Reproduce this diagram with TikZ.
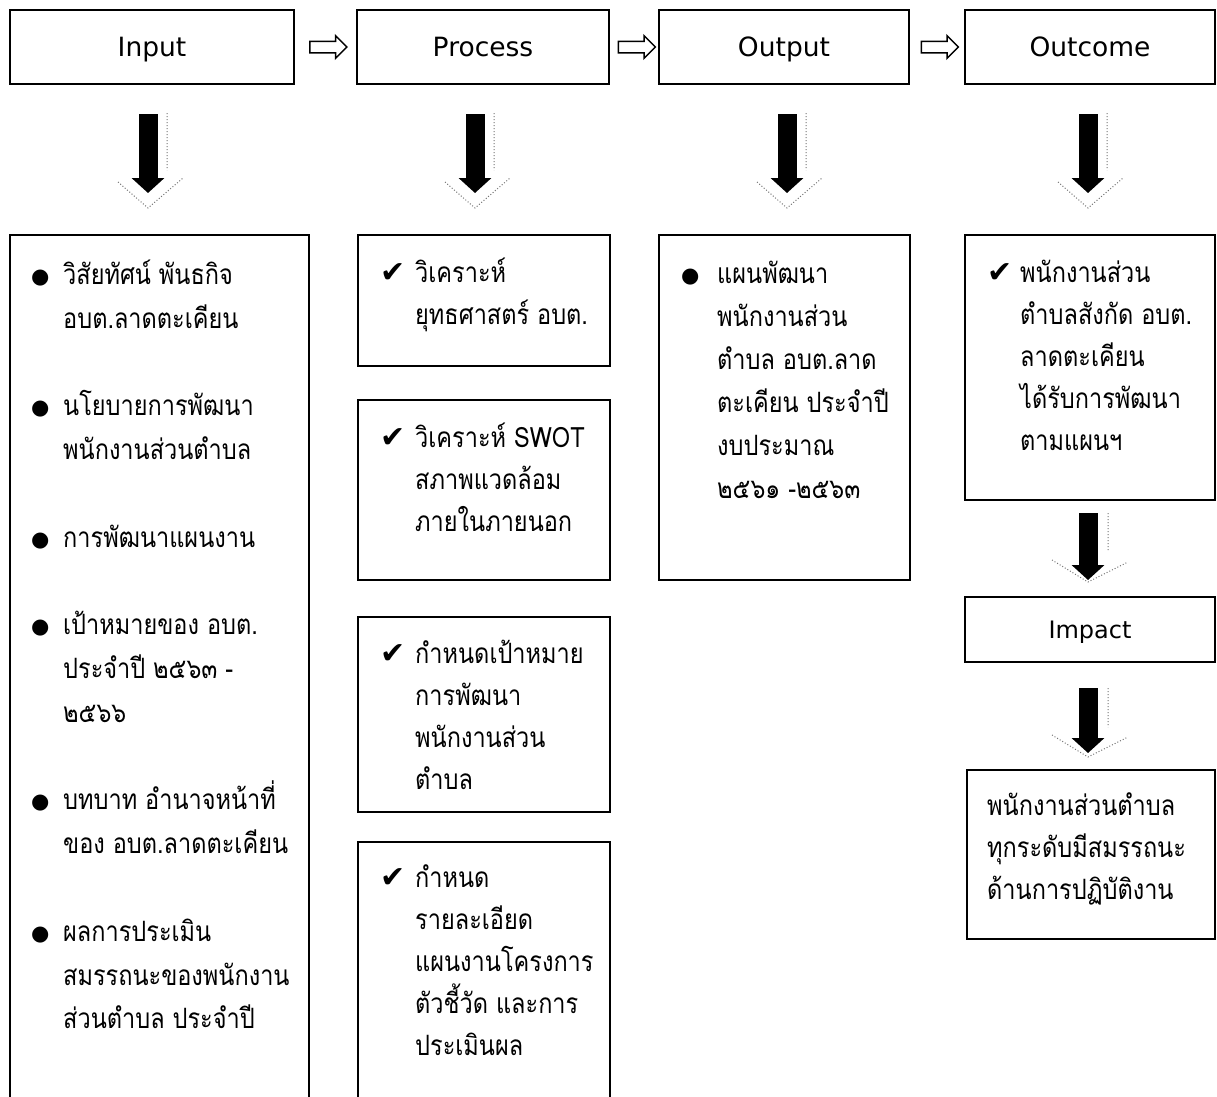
\documentclass[tikz,border=0pt]{standalone}
\usepackage{fontspec}
\setmainfont{DejaVu Sans}
\newfontfamily\thai[Script=Thai, FakeStretch=0.84]{Loma}
\newfontfamily\symf{DejaVu Sans}
\usetikzlibrary{arrows.meta,shapes.arrows,calc}
\newcommand\bul{\makebox[32pt][l]{\raisebox{1pt}{\symf\fontsize{21}{21}\selectfont ●}}}
\newcommand\obul{\makebox[36pt][l]{\raisebox{1pt}{\symf\fontsize{21}{21}\selectfont ●}}}
\newcommand\chk{\makebox[35pt][l]{\symf\fontsize{30}{30}\selectfont ✔}}
\newcommand\ochk{\makebox[33pt][l]{\symf\fontsize{30}{30}\selectfont ✔}}
\newcommand\ind[1]{\hspace*{#1}}
\newcommand\st{\rule{0pt}{32pt}}
\tikzset{
  boxx/.style={draw=black, line width=1.6pt, inner sep=0pt, outer sep=0pt, anchor=north west},
  titlebox/.style={boxx, font=\fontsize{26.5}{30}\selectfont, text height=19pt, text depth=0pt},
  txt/.style={inner sep=0pt, anchor=north west, align=left},
  txtA/.style={txt, font=\thai\fontsize{28}{43.8}\selectfont},
  txtB/.style={txt, font=\thai\fontsize{28}{42}\selectfont},
  txtC/.style={txt, font=\thai\fontsize{28}{43}\selectfont},
  harrow/.style={draw=black, line width=1.5pt, fill=white, single arrow, minimum height=37pt,
    inner xsep=0pt, inner ysep=5pt, single arrow head extend=5.5pt, single arrow head indent=0pt},
  darrow/.style={draw=black, line width=19pt, line cap=butt, -{Triangle[width=32pt,length=15pt]}},
  shadowline/.style={draw=black!55, dotted, line width=1pt}
}
\begin{document}
\begin{tikzpicture}[x=1pt,y=-1pt]
\useasboundingbox (0,0) rectangle (1217,1096);
% title row
\node[titlebox, minimum width=284pt, minimum height=74pt] (input) at (10,10) {Input};
\node[titlebox, minimum width=252pt, minimum height=74pt] (process) at (357,10) {Process};
\node[titlebox, minimum width=250pt, minimum height=74pt] (output) at (659,10) {Output};
\node[titlebox, minimum width=250pt, minimum height=74pt] (outcome) at (965,10) {Outcome};
\node[harrow] (h1) at ($(input.east)!0.5!(process.west)$) {};
\node[harrow] (h2) at ($(process.east)!0.5!(output.west)$) {};
\node[harrow] (h3) at ($(output.east)!0.5!(outcome.west)$) {};
% content boxes
\node[boxx, minimum width=299pt, minimum height=880pt] (inbox) at (10,235) {};
\node[boxx, minimum width=252pt, minimum height=131pt] (p1) at (358,235) {};
\node[boxx, minimum width=252pt, minimum height=180pt] (p2) at (358,400) {};
\node[boxx, minimum width=252pt, minimum height=195pt] (p3) at (358,617) {};
\node[boxx, minimum width=252pt, minimum height=270pt] (p4) at (358,842) {};
\node[boxx, minimum width=251pt, minimum height=345pt] (outbox) at (659,235) {};
\node[boxx, minimum width=250pt, minimum height=265pt] (ocbox) at (965,235) {};
\node[titlebox, minimum width=250pt, minimum height=65pt, font=\fontsize{24}{28}\selectfont, text height=17.5pt] (impact) at (965,597) {Impact};
\node[boxx, minimum width=248pt, minimum height=169pt] (final) at (967,770) {};
% texts
\node[txtA] (intxt) at (31,252) {\st\bul วิสัยทัศน์ พันธกิจ\\ \ind{32pt}อบต.ลาดตะเคียน\\[43.8pt]
\bul นโยบายการพัฒนา\\ \ind{32pt}พนักงานส่วนตำบล\\[43.8pt]
\bul การพัฒนาแผนงาน\\[43.8pt]
\bul เป้าหมายของ อบต.\\ \ind{32pt}ประจำปี ๒๕๖๓ -\\ \ind{32pt}๒๕๖๖\\[43.8pt]
\bul บทบาท อำนาจหน้าที่\\ \ind{32pt}ของ อบต.ลาดตะเคียน\\[43.8pt]
\bul ผลการประเมิน\\ \ind{32pt}สมรรถนะของพนักงาน\\ \ind{32pt}ส่วนตำบล ประจำปี};
\node[txtB] (p1txt) at (380,250) {\st\chk วิเคราะห์\\ \ind{35pt}ยุทธศาสตร์ อบต.};
\node[txtB] (p2txt) at (380,415) {\st\chk วิเคราะห์ SWOT\\ \ind{35pt}สภาพแวดล้อม\\ \ind{35pt}ภายในภายนอก};
\node[txtB] (p3txt) at (380,631) {\st\chk กำหนดเป้าหมาย\\ \ind{35pt}การพัฒนา\\ \ind{35pt}พนักงานส่วน\\ \ind{35pt}ตำบล};
\node[txtB] (p4txt) at (380,855) {\st\chk กำหนด\\ \ind{35pt}รายละเอียด\\ \ind{35pt}แผนงานโครงการ\\ \ind{35pt}ตัวชี้วัด และการ\\ \ind{35pt}ประเมินผล};
\node[txtC] (outtxt) at (681,251) {\st\obul แผนพัฒนา\\ \ind{36pt}พนักงานส่วน\\ \ind{36pt}ตำบล อบต.ลาด\\ \ind{36pt}ตะเคียน ประจำปี\\ \ind{36pt}งบประมาณ\\ \ind{36pt}๒๕๖๑ -๒๕๖๓};
\node[txtB] (octxt) at (987,250) {\st\ochk พนักงานส่วน\\ \ind{33pt}ตำบลสังกัด อบต.\\ \ind{33pt}ลาดตะเคียน\\ \ind{33pt}ได้รับการพัฒนา\\ \ind{33pt}ตามแผนฯ};
\node[txtB] (fintxt) at (987,783) {\st พนักงานส่วนตำบล\\ ทุกระดับมีสมรรถนะ\\ ด้านการปฏิบัติงาน};
% down arrows (shadows first)
\draw[shadowline] (167,113) -- (167,170) (118,182) -- (148,208) -- (183,178);
\draw[shadowline] (494,113) -- (494,170) (445,182) -- (475,208) -- (510,178);
\draw[shadowline] (806,113) -- (806,170) (757,182) -- (787,208) -- (822,178);
\draw[shadowline] (1107,113) -- (1107,170) (1058,182) -- (1088,208) -- (1123,178);
\draw[shadowline] (1108,513) -- (1108,552) (1052,560) -- (1088,582) -- (1128,562);
\draw[shadowline] (1108,688) -- (1108,727) (1052,735) -- (1088,757) -- (1128,737);
\draw[darrow, shorten <=30pt, shorten >=42pt] ([xshift=-4pt]input.south) -- ([xshift=-4pt]input.south |- inbox.north);
\draw[darrow, shorten <=30pt, shorten >=42pt] ([xshift=-8pt]process.south) -- ([xshift=-8pt]process.south |- p1.north);
\draw[darrow, shorten <=30pt, shorten >=42pt] ([xshift=3pt]output.south) -- ([xshift=3pt]output.south |- outbox.north);
\draw[darrow, shorten <=30pt, shorten >=42pt] ([xshift=-2pt]outcome.south) -- ([xshift=-2pt]outcome.south |- ocbox.north);
\draw[darrow, shorten <=13pt, shorten >=17pt] ([xshift=-2pt]ocbox.south) -- ([xshift=-2pt]ocbox.south |- impact.north);
\draw[darrow, shorten <=26pt, shorten >=17pt] ([xshift=-2pt]impact.south) -- ([xshift=-2pt]impact.south |- final.north);
\end{tikzpicture}
\end{document}
